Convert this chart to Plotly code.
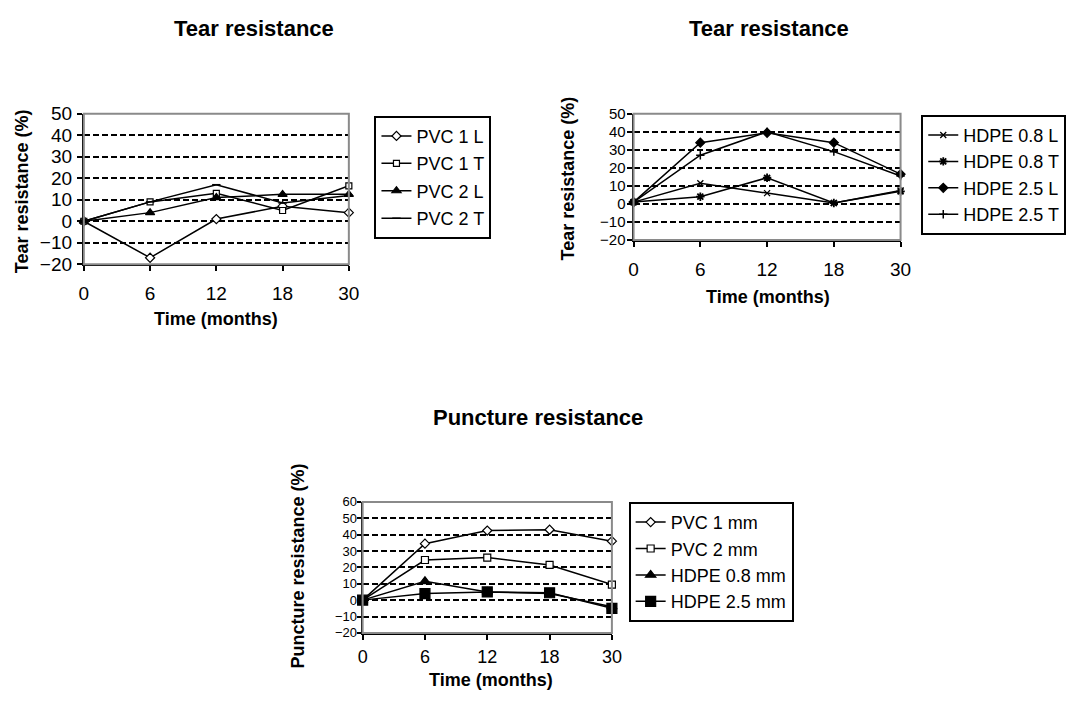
import plotly.graph_objects as go

W, H = 1083, 705
FONT = "Liberation Sans, Arial, sans-serif"

months = ["0", "6", "12", "18", "30"]

# Chart 1: tear resistance, PVC
pvc1_L = [0, -17, 1, 7, 4]
pvc1_T = [0, 9, 13, 5, 16.5]
pvc2_L = [0, 4, 11, 12.5, 12.5]
pvc2_T = [0, 9, 17, 8.5, 12]

# Chart 2: tear resistance, HDPE
hdpe08_L = [1, 11.5, 6, 0.5, 7.5]
hdpe08_T = [1, 4, 14.5, 0.5, 7]
hdpe25_L = [1, 34, 39.5, 34, 16.5]
hdpe25_T = [1, 27, 40, 29, 15.5]

# Chart 3: puncture resistance
pvc1mm = [0, 34.5, 42.5, 43, 36]
pvc2mm = [0, 24.5, 26, 21.5, 9.5]
hdpe08mm = [0, 11.5, 5, 4, -4]
hdpe25mm = [0, 4, 5, 4.5, -5]

def px(x):
    return x / W

def py(y):
    return 1 - y / H

fig = go.Figure()

def add(x_ax, y_ax, leg, name, ys, symbol, color, size, lw=1.2):
    fig.add_trace(go.Scatter(
        x=months, y=ys, name=name, mode="lines+markers",
        xaxis=x_ax, yaxis=y_ax, legend=leg, legendgroup=name,
        line=dict(color="black", width=1.5),
        marker=dict(symbol=symbol, color=color, size=size,
                    line=dict(color="black", width=lw)),
        cliponaxis=False,
    ))

add("x", "y", "legend", "PVC 1 L", pvc1_L, "diamond", "white", 7)
add("x", "y", "legend", "PVC 1 T", pvc1_T, "square", "white", 6)
add("x", "y", "legend", "PVC 2 L", pvc2_L, "triangle-up", "black", 8)
add("x", "y", "legend", "PVC 2 T", pvc2_T, "line-ew", "black", 6, 1.5)

add("x2", "y2", "legend2", "HDPE 0.8 L", hdpe08_L, "x-thin", "black", 6, 1.3)
add("x2", "y2", "legend2", "HDPE 0.8 T", hdpe08_T, "asterisk", "black", 7, 1.8)
add("x2", "y2", "legend2", "HDPE 2.5 L", hdpe25_L, "diamond", "black", 7)
add("x2", "y2", "legend2", "HDPE 2.5 T", hdpe25_T, "cross-thin", "black", 6, 1.5)

add("x3", "y3", "legend3", "PVC 1 mm", pvc1mm, "diamond", "white", 7)
add("x3", "y3", "legend3", "PVC 2 mm", pvc2mm, "square", "white", 7)
add("x3", "y3", "legend3", "HDPE 0.8 mm", hdpe08mm, "triangle-up", "black", 9)
add("x3", "y3", "legend3", "HDPE 2.5 mm", hdpe25mm, "square", "black", 10)

def xaxis(dom, anchor, fs, standoff):
    return dict(domain=dom, anchor=anchor, type="category", range=[0, 4],
                showgrid=False, zeroline=False, showline=True, linecolor="black",
                linewidth=2, ticks="outside", ticklen=5, tickwidth=2, tickcolor="black",
                tickfont=dict(family=FONT, size=fs, color="black"),
                ticklabelstandoff=standoff, fixedrange=True)

def yaxis(dom, anchor, rng, fs, standoff, ticklen=5):
    return dict(domain=dom, anchor=anchor, range=rng, dtick=10, tick0=0,
                showgrid=True, gridcolor="black", griddash="6px,3px", gridwidth=2,
                zeroline=False, showline=True, linecolor="black", linewidth=2,
                ticks="outside", ticklen=ticklen, tickwidth=2, tickcolor="black",
                tickfont=dict(family=FONT, size=fs, color="black"),
                ticklabelstandoff=standoff, fixedrange=True)

# plot areas (pixel boxes)
p1 = (80, 349, 107, 262)
p2 = (638, 909, 107, 237)
p3 = (363, 616, 507, 642)

fig.update_layout(
    xaxis=xaxis([px(p1[0]), px(p1[1])], "y", 19, 6),
    yaxis=yaxis([py(p1[3]), py(p1[2])], "x", [-20, 50], 19, 1),
    xaxis2=xaxis([px(p2[0]), px(p2[1])], "y2", 19, 6),
    yaxis2=yaxis([py(p2[3]), py(p2[2])], "x2", [-20, 50], 15, -2),
    xaxis3=xaxis([px(p3[0]), px(p3[1])], "y3", 18, 2),
    yaxis3=yaxis([py(p3[3]), py(p3[2])], "x3", [-20, 60], 13, -3, 4),
)

# gray frame (top/right border) over gridlines
for xa, ya in [("x", "y"), ("x2", "y2"), ("x3", "y3")]:
    fig.add_shape(type="rect", xref=f"{xa} domain", yref=f"{ya} domain",
                  x0=0, x1=1, y0=0, y1=1, line=dict(color="#8a8a8a", width=2),
                  layer="above")

def legend(xpx, ypx, gap):
    return dict(x=px(xpx), y=py(ypx), xanchor="left", yanchor="top",
                bordercolor="black", borderwidth=2, bgcolor="white",
                font=dict(family=FONT, size=18, color="black"),
                tracegroupgap=gap, traceorder="grouped", itemwidth=30)

fig.update_layout(legend=legend(375, 109, 1), legend2=legend(930, 108, 0),
                  legend3=legend(633, 507, 0))

anns = []
def text(t, x, y, size, angle=0):
    anns.append(dict(text=f"<b>{t}</b>", x=px(x), y=py(y), xref="paper", yref="paper",
                     xanchor="center", yanchor="middle", showarrow=False, textangle=angle,
                     font=dict(family=FONT, size=size, color="black")))

text("Tear resistance", 253, 19, 22)
text("Tear resistance", 775, 19, 22)
text("Puncture resistance", 541, 420, 22)
text("Time (months)", 214, 319, 18)
text("Time (months)", 774, 296, 18)
text("Time (months)", 493, 691, 18)
text("Tear resistance (%)", 18, 187, 18, -90)
text("Tear resistance (%)", 571, 174, 18, -90)
text("Puncture resistance (%)", 297, 573, 18, -90)

fig.update_layout(annotations=anns, width=W, height=H,
                  margin=dict(l=0, r=0, t=0, b=0),
                  paper_bgcolor="white", plot_bgcolor="white", showlegend=True)

fig.write_html("out.html", config=dict(displayModeBar=False),
               post_script="document.body.style.margin='0';"
                           "document.body.style.padding='0';"
                           "document.documentElement.style.overflow='hidden';")
